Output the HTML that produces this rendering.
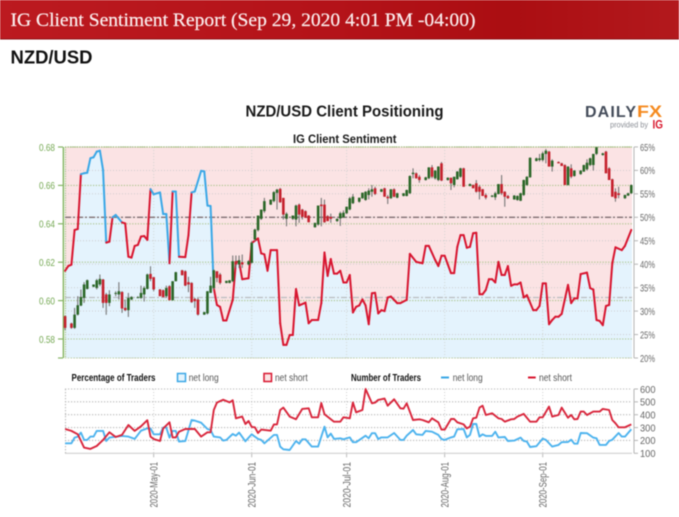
<!DOCTYPE html>
<html lang="en">
<head>
<meta charset="utf-8">
<title>IG Client Sentiment Report NZD/USD</title>
<style>
html,body{margin:0;padding:0;background:#fff;width:679px;height:517px;overflow:hidden}
svg{display:block;font-family:"Liberation Sans",sans-serif;filter:blur(0.4px)}
</style>
</head>
<body>
<svg id="root" width="679" height="517" viewBox="0 0 679 517" xmlns="http://www.w3.org/2000/svg">
  <defs>
    <linearGradient id="hdr" x1="0" x2="1" y1="0" y2="0">
      <stop offset="0" stop-color="#bc1a20"/>
      <stop offset="0.5" stop-color="#b41319"/>
      <stop offset="0.75" stop-color="#ab0e12"/>
      <stop offset="1" stop-color="#b3191d"/>
    </linearGradient>
  </defs>
  <rect x="0" y="0" width="679" height="39" fill="url(#hdr)"/>
  <rect x="0" y="38.5" width="679" height="1" fill="#8f1014"/>
  <text x="10.5" y="26" fill="#fbeeee" stroke="#fbeeee" stroke-width="0.2" font-family="'Liberation Serif',serif" font-size="18.5" textLength="465" lengthAdjust="spacingAndGlyphs">IG Client Sentiment Report (Sep 29, 2020 4:01 PM -04:00)</text>
  <text x="10.5" y="63.5" fill="#111" font-size="18" font-weight="bold" textLength="82" lengthAdjust="spacingAndGlyphs">NZD/USD</text>
  <text x="245.5" y="116.5" fill="#1a1a1a" font-size="15.5" font-weight="bold" textLength="198" lengthAdjust="spacingAndGlyphs">NZD/USD Client Positioning</text>
  <text x="293" y="143" fill="#1a1a1a" font-size="11.5" font-weight="bold" textLength="103.5" lengthAdjust="spacingAndGlyphs">IG Client Sentiment</text>
  <g>
    <text x="585" y="117" fill="#444c5a" font-size="16" font-weight="bold" textLength="51" lengthAdjust="spacing">DAILY</text>
    <text x="637" y="117" fill="#f58a1f" font-size="16.5" font-weight="bold" textLength="25" lengthAdjust="spacingAndGlyphs">FX</text>
    <text x="610" y="127.5" fill="#8b8f96" font-size="8" textLength="38" lengthAdjust="spacingAndGlyphs">provided by</text>
    <text x="652.5" y="128.5" fill="#d8162c" font-size="11.5" font-weight="bold" textLength="10.5" lengthAdjust="spacingAndGlyphs">IG</text>
  </g>
  <g id="plot"></g>
  <g id="lower"></g>
  <g>
    <text x="71.5" y="381" fill="#111" font-size="10" font-weight="bold" textLength="84" lengthAdjust="spacingAndGlyphs">Percentage of Traders</text>
    <rect x="177.5" y="373.5" width="8" height="8" fill="#e3f3fd" stroke="#3aa7e6" stroke-width="1.5"/>
    <text x="188.7" y="381" fill="#555" font-size="10" textLength="30" lengthAdjust="spacingAndGlyphs">net long</text>
    <rect x="264" y="373.5" width="7.5" height="8" fill="#fbe3e3" stroke="#d8152f" stroke-width="1.5"/>
    <text x="275" y="381" fill="#555" font-size="10" textLength="32.7" lengthAdjust="spacingAndGlyphs">net short</text>
    <text x="351" y="381" fill="#111" font-size="10" font-weight="bold" textLength="70" lengthAdjust="spacingAndGlyphs">Number of Traders</text>
    <line x1="441" x2="449" y1="377.5" y2="377.5" stroke="#3aa7e6" stroke-width="2"/>
    <text x="452.7" y="381" fill="#555" font-size="10" textLength="30" lengthAdjust="spacingAndGlyphs">net long</text>
    <line x1="528" x2="535.7" y1="377.5" y2="377.5" stroke="#d8152f" stroke-width="2"/>
    <text x="539" y="381" fill="#555" font-size="10" textLength="33" lengthAdjust="spacingAndGlyphs">net short</text>
  </g>
</svg>
<script>
const priceTicks = [0.58, 0.60, 0.62, 0.64, 0.66, 0.68];
const percentTicks = [20, 25, 30, 35, 40, 45, 50, 55, 60, 65];
const traderTicks = [100, 200, 300, 400, 500, 600];
const monthDays = [28, 59, 89, 120, 151];
const monthLabels = ["2020-May-01", "2020-Jun-01", "2020-Jul-01", "2020-Aug-01", "2020-Sep-01"];
const referencePercents = [50, 32.9];

const sentimentDays = [0,1,2,3,4,5,6,7,8,9,10,11,12,13,14,15,16,18,19,20,21,22,23,24,25,26,27,28,30,31,32,33,34,35,36,38,39,40,41,43,44,45,46,47,48,49,50,51,53,54,55,56,58,59,61,62,63,64,65,67,68,69,70,71,72,73,74,76,77,78,80,81,82,83,84,85,86,87,88,89,90,91,92,93,94,95,96,97,98,99,100,101,102,103,105,106,108,109,111,113,114,115,117,118,119,120,122,123,124,125,126,127,128,129,130,131,132,133,134,135,136,137,138,139,140,141,142,143,144,145,146,148,149,150,151,152,153,154,155,156,157,159,160,161,162,163,165,166,167,168,169,170,171,172,173,174,176,177,179];
const sentimentValues = [38.6,39.6,39.9,47.3,47.5,59.2,59.4,59.5,62.6,62.8,64,64.2,60.1,44.6,44.8,50,50.5,48.9,48.7,41.6,41.4,43.9,44.1,45.9,46,45.2,56,54.9,55.3,50.7,50.7,40.2,55.5,55.5,41.6,41.5,46.2,55.3,55.5,59.9,59.8,52.5,52.4,34.9,31.3,30.9,28,28,32.4,40.5,40.5,36.8,37,44.5,45.5,42.3,42.1,38.6,43,43,27.4,22.8,22.8,24.9,24.9,34.7,31.2,31.8,27.4,28.1,28.1,31.7,42.5,37.5,41.1,38,38,38.6,36.1,36.1,37.7,29.7,30.9,31.2,32.5,31.2,27.2,33.8,33.9,29.5,30.2,30,32.9,33.1,31.7,31.7,32.4,42.2,40.5,40.2,43.9,43.9,40.9,39.6,41.8,41.8,38.1,38.1,43.7,46.2,46.2,43.5,43.7,46.6,46.7,33.6,33.6,34.5,36.8,36.8,36.1,40.5,37.7,37.7,39.6,35.4,35.7,35.7,36.1,32.9,33.4,30.2,30.2,31.1,35.9,35.9,27.2,28.1,28.8,28.8,29.4,35.6,31.7,32.7,32.7,37.9,38.2,34.9,34.6,28.1,27.9,27,31.1,31.3,40.2,43.6,43,43.9,47.3];

const candleLastDay = 179;
const candleOpen = [.5919,.5881,.5858,.5927,.5974,.6014,.6061,.6072,.6066,.6084,.6110,.6032,.5988,.6035,.6032,.6045,.5962,.5950,.6006,.6014,.6014,.6032,.6061,.6139,.6122,.6058,.6054,.6023,.6075,.6002,.6101,.6158,.6153,.6096,.6092,.6009,.6006,.5927,.5933,.6040,.6066,.6153,.6136,.6092,.6092,.6101,.6205,.6188,.6200,.6188,.6197,.6318,.6367,.6426,.6466,.6500,.6518,.6561,.6582,.6535,.6426,.6426,.6422,.6500,.6474,.6466,.6443,.6382,.6396,.6500,.6500,.6440,.6436,.6414,.6428,.6434,.6455,.6475,.6507,.6515,.6533,.6524,.6550,.6567,.6585,.6567,.6585,.6541,.6533,.6580,.6536,.6545,.6545,.6559,.6659,.6663,.6645,.6628,.6637,.6694,.6637,.6628,.6715,.6628,.6640,.6602,.6632,.6645,.6689,.6597,.6602,.6611,.6593,.6580,.6550,.6541,.6538,.6555,.6607,.6567,.6545,.6527,.6524,.6520,.6550,.6602,.6642,.6727,.6732,.6732,.6764,.6776,.6698,.6722,.6715,.6706,.6602,.6689,.6649,.6659,.6672,.6684,.6706,.6706,.6764,.6758,.6776,.6689,.6632,.6567,.6559,.6533,.6547,.6559];
const candleHigh = [.5922,.5885,.5962,.6023,.6058,.6096,.6110,.6084,.6113,.6136,.6113,.6040,.6054,.6049,.6096,.6049,.6006,.6040,.6023,.6023,.6078,.6075,.6141,.6179,.6122,.6060,.6058,.6078,.6080,.6101,.6150,.6160,.6158,.6124,.6096,.6014,.6014,.5942,.6049,.6124,.6162,.6153,.6144,.6103,.6106,.6235,.6235,.6235,.6240,.6210,.6309,.6375,.6443,.6474,.6535,.6526,.6570,.6582,.6587,.6535,.6460,.6443,.6500,.6506,.6478,.6470,.6445,.6405,.6495,.6535,.6526,.6445,.6453,.6428,.6463,.6470,.6489,.6540,.6555,.6536,.6562,.6570,.6585,.6602,.6593,.6582,.6588,.6550,.6580,.6585,.6562,.6560,.6578,.6652,.6689,.6668,.6654,.6645,.6694,.6706,.6680,.6700,.6722,.6642,.6640,.6645,.6675,.6692,.6692,.6610,.6605,.6628,.6602,.6582,.6559,.6550,.6567,.6607,.6654,.6570,.6550,.6550,.6548,.6562,.6630,.6648,.6746,.6745,.6764,.6776,.6790,.6780,.6736,.6725,.6718,.6710,.6700,.6710,.6680,.6680,.6708,.6736,.6745,.6764,.6800,.6770,.6780,.6695,.6635,.6585,.6593,.6552,.6562,.6605];
const candleLow = [.5846,.5853,.5853,.5922,.5971,.5988,.6058,.6070,.6058,.6075,.5962,.5926,.5971,.6023,.6006,.5936,.5945,.5915,.6002,.6014,.6009,.5995,.6058,.6101,.6049,.6023,.6018,.6014,.6002,.6000,.6100,.6132,.6075,.6044,.5988,.5962,.5922,.5925,.5927,.6040,.6058,.6096,.6084,.6090,.6090,.6096,.6170,.6170,.6170,.6183,.6193,.6310,.6360,.6420,.6457,.6498,.6512,.6474,.6509,.6422,.6387,.6420,.6387,.6405,.6422,.6431,.6408,.6380,.6390,.6387,.6405,.6414,.6405,.6410,.6389,.6430,.6450,.6470,.6503,.6510,.6530,.6520,.6527,.6541,.6550,.6565,.6541,.6503,.6530,.6538,.6533,.6543,.6543,.6555,.6637,.6635,.6614,.6625,.6632,.6637,.6630,.6622,.6622,.6625,.6576,.6590,.6630,.6640,.6593,.6595,.6585,.6562,.6527,.6545,.6527,.6538,.6524,.6553,.6550,.6489,.6530,.6525,.6520,.6518,.6545,.6598,.6640,.6725,.6724,.6724,.6715,.6698,.6672,.6715,.6701,.6602,.6600,.6637,.6645,.6655,.6670,.6677,.6700,.6677,.6758,.6755,.6663,.6628,.6541,.6515,.6533,.6530,.6545,.6555];
const candleClose = [.5858,.5858,.5927,.5976,.6019,.6084,.6106,.6084,.6106,.6113,.5988,.5988,.6032,.6040,.6049,.5959,.5950,.6014,.6019,.6018,.6040,.6066,.6136,.6113,.6058,.6023,.6018,.6066,.6002,.6101,.6148,.6132,.6078,.6084,.5992,.5997,.5927,.5940,.6049,.6078,.6158,.6118,.6092,.6103,.6106,.6205,.6188,.6210,.6188,.6205,.6301,.6370,.6443,.6474,.6518,.6526,.6565,.6578,.6512,.6448,.6452,.6443,.6495,.6448,.6436,.6431,.6408,.6405,.6495,.6492,.6408,.6414,.6426,.6426,.6455,.6458,.6489,.6533,.6541,.6536,.6562,.6567,.6573,.6580,.6555,.6580,.6541,.6533,.6580,.6541,.6559,.6559,.6576,.6649,.6666,.6637,.6628,.6642,.6694,.6645,.6677,.6698,.6625,.6640,.6611,.6645,.6672,.6689,.6593,.6607,.6585,.6567,.6567,.6545,.6536,.6547,.6559,.6607,.6559,.6541,.6533,.6547,.6545,.6559,.6628,.6645,.6744,.6741,.6741,.6767,.6781,.6698,.6729,.6715,.6701,.6602,.6698,.6645,.6677,.6677,.6706,.6718,.6741,.6764,.6798,.6767,.6663,.6628,.6541,.6533,.6550,.6550,.6559,.6602];

const netLongDays = [0,2,3,4,5,6,7,8,9,10,12,13,14,18,20,22,24,26,27,28,30,31,32,33,34,35,36,38,40,41,43,45,46,47,49,50,51,53,54,55,57,59,61,62,63,66,67,68,69,71,73,74,75,76,78,80,82,83,84,85,87,88,90,91,92,95,96,97,98,99,100,102,104,106,107,108,110,111,113,114,116,118,119,120,122,123,124,126,127,128,129,130,131,132,133,135,136,137,139,140,142,144,145,146,147,149,151,152,154,156,157,159,160,161,162,163,165,167,168,169,171,172,173,175,176,177,179];
const netLongValues = [178,178,222,230,261,204,204,230,230,274,274,196,222,235,230,212,276,294,294,248,248,300,300,222,274,274,191,196,359,354,338,289,281,230,224,199,204,250,237,261,193,248,212,204,178,243,243,152,131,126,196,175,209,209,152,152,307,224,253,212,217,209,224,186,186,237,217,256,256,211,224,224,258,204,204,237,281,248,243,274,268,243,211,204,224,230,287,289,224,243,328,328,230,248,235,235,268,224,227,196,199,222,196,191,149,155,214,204,152,165,186,188,206,175,175,258,256,222,217,165,165,196,206,258,230,230,287];

const netShortDays = [0,2,4,6,8,10,12,14,16,18,20,22,24,26,27,28,30,31,33,34,35,36,38,41,43,45,46,47,48,50,52,53,54,56,57,58,59,60,61,62,65,66,67,68,69,71,73,75,77,78,80,81,82,85,87,88,90,91,92,94,95,97,98,99,101,102,104,106,107,108,110,112,113,115,116,118,119,120,122,123,124,126,127,128,129,130,131,132,133,135,137,138,139,141,142,143,145,147,149,150,151,153,154,156,157,159,160,161,162,163,164,165,167,169,170,172,173,174,175,177,179];
const netShortValues = [289,274,248,144,134,157,204,263,227,243,320,274,310,357,230,211,196,294,341,224,224,268,289,289,230,263,263,437,494,517,496,512,372,385,328,351,305,302,258,284,276,325,325,437,455,385,364,445,450,380,380,491,403,346,346,380,372,496,419,437,600,489,494,515,525,470,520,450,447,489,359,364,359,341,372,341,284,284,367,367,341,325,294,307,372,377,455,470,398,411,372,367,346,364,367,385,406,346,346,380,380,463,385,398,455,377,398,364,367,424,424,398,424,424,445,437,359,333,302,302,325];

const svgNS = "http://www.w3.org/2000/svg";
const plotGroup = document.getElementById("plot");
const lowerGroup = document.getElementById("lower");
const plotLeft = 65, plotRight = 632, plotTop = 147, plotBottom = 358;
const lowTop = 389, lowBottom = 453.3;

function xOfDay(d){ return 65.1 + 3.163 * d; }
function yOfPrice(p){ return 147 + (0.68 - p) * 1920; }
function yOfPercent(v){ return 358 - (v - 20) * 4.69; }
function yOfTraders(v){ return 453.3 - (v - 100) * 0.1286; }

function make(parent, tag, attrs, text){
  const node = document.createElementNS(svgNS, tag);
  for (const k in attrs) node.setAttribute(k, attrs[k]);
  if (text !== undefined) node.textContent = text;
  parent.appendChild(node);
  return node;
}
function pointsOf(days, values, yFn){
  return days.map((d, i) => xOfDay(d).toFixed(1) + "," + yFn(values[i]).toFixed(1));
}

/* sentiment fills */
const linePts = pointsOf(sentimentDays, sentimentValues, yOfPercent);
const lastX = plotRight, firstX = plotLeft;
const firstY = yOfPercent(sentimentValues[0]).toFixed(1);
const lastY = yOfPercent(sentimentValues[sentimentValues.length - 1]).toFixed(1);
const fillAbove = make(plotGroup, "polygon", {points: firstX + "," + plotTop + " " + firstX + "," + firstY + " " + linePts.join(" ") + " " + lastX + "," + lastY + " " + lastX + "," + plotTop, fill: "#fbe3e4"});


const fillBelow = make(plotGroup, "polygon", {points: firstX + "," + plotBottom + " " + firstX + "," + firstY + " " + linePts.join(" ") + " " + lastX + "," + lastY + " " + lastX + "," + plotBottom, fill: "#e4f3fd"});



/* grid: percent */
percentTicks.forEach(v => {
  const y = yOfPercent(v);
  const g = make(plotGroup, "line", {x1: plotLeft, x2: plotRight, y1: y, y2: y, stroke: "#c9c9c9", "stroke-width": 0.9, "stroke-dasharray": "1 2"});
  
  
  const t = make(plotGroup, "line", {x1: 634, x2: 638, y1: y, y2: y, stroke: "#b5b5b5", "stroke-width": 1});
  
  
  const l = make(plotGroup, "text", {x: 640, y: y + 3.8, fill: "#666", "font-size": 10.5, textLength: 15, lengthAdjust: "spacingAndGlyphs"}, v + "%");
  
  
});
/* grid: price */
priceTicks.forEach(v => {
  const y = yOfPrice(v);
  const g = make(plotGroup, "line", {x1: plotLeft, x2: plotRight, y1: y, y2: y, stroke: "#a9c48a", "stroke-width": 1.1, "stroke-dasharray": "1.2 1.6"});
  
  
  const t = make(plotGroup, "line", {x1: 58, x2: 63, y1: y, y2: y, stroke: "#86b565", "stroke-width": 1.2});
  
  
  const l = make(plotGroup, "text", {x: 39, y: y + 3.8, fill: "#74a852", "font-size": 10.5, textLength: 16, lengthAdjust: "spacingAndGlyphs"}, v.toFixed(2));
  
  
});
/* month gridlines both panels */
monthDays.forEach((d, i) => {
  const x = xOfDay(d);
  const g = make(plotGroup, "line", {x1: x, x2: x, y1: plotTop, y2: plotBottom, stroke: "#cfd3cf", "stroke-width": 0.9, "stroke-dasharray": "1 2"});
  
  
  const g2 = make(lowerGroup, "line", {x1: x, x2: x, y1: lowTop, y2: lowBottom, stroke: "#c9c9c9", "stroke-width": 0.9, "stroke-dasharray": "1 2"});
  
  
  const t = make(lowerGroup, "line", {x1: x, x2: x, y1: lowBottom, y2: lowBottom + 4, stroke: "#bbb", "stroke-width": 1});
  
  
  const yb = 507.5;
  const l = make(lowerGroup, "text", {x: x + 3.8, y: yb, fill: "#666", "font-size": 11, textLength: 45.5, lengthAdjust: "spacingAndGlyphs", transform: "rotate(-90 " + (x + 3.8) + " " + yb + ")"}, monthLabels[i]);
  
  
});
/* plot frame */
const topEdge = make(plotGroup, "line", {x1: plotLeft, x2: plotRight, y1: plotTop, y2: plotTop, stroke: "#9dba78", "stroke-width": 1.3, "stroke-dasharray": "1.2 1.2"});


const leftEdge = make(plotGroup, "line", {x1: 65.5, x2: 65.5, y1: plotTop, y2: plotBottom, stroke: "#9dba78", "stroke-width": 1, "stroke-dasharray": "1.2 1.2"});


const bottomEdge = make(plotGroup, "line", {x1: plotLeft, x2: plotRight, y1: plotBottom, y2: plotBottom, stroke: "#b7cc9c", "stroke-width": 1, "stroke-dasharray": "1.2 1.6"});


const leftAxis = make(plotGroup, "line", {x1: 63.4, x2: 63.4, y1: plotTop, y2: plotBottom, stroke: "#86b565", "stroke-width": 1.5});


const bottomTick = make(plotGroup, "line", {x1: 58, x2: 63, y1: plotBottom, y2: plotBottom, stroke: "#86b565", "stroke-width": 1.2});


const rightAxis = make(plotGroup, "line", {x1: 634, x2: 634, y1: plotTop, y2: plotBottom, stroke: "#b5b5b5", "stroke-width": 1});



/* reference lines */
referencePercents.forEach((v, i) => {
  const y = yOfPercent(v);
  const r = make(plotGroup, "line", {x1: plotLeft, x2: plotRight, y1: y, y2: y, stroke: i === 0 ? "#7f6f72" : "#b9bcbf", "stroke-width": 1.3, "stroke-dasharray": "6 2 2 2"});
  
  
});

/* sentiment line: colour of each segment follows its starting side of 50% */
for (let i = 0; i < sentimentDays.length - 1; i++) {
  const seg = make(plotGroup, "line", {
    x1: xOfDay(sentimentDays[i]), y1: yOfPercent(sentimentValues[i]),
    x2: xOfDay(sentimentDays[i + 1]), y2: yOfPercent(sentimentValues[i + 1]),
    stroke: sentimentValues[i] >= 50 ? "#3aa7e6" : "#d8152f",
    "stroke-width": 2, "stroke-linecap": "round"
  });
  
  
}

/* candles: one per day, no Saturday session (day 0 is a Friday) */
let candleIndex = 0;
for (let d = 0; d <= candleLastDay; d++) {
  if (d % 7 === 1) continue;
  const i = candleIndex++;
  if (i >= candleOpen.length) break;
  const x = xOfDay(d);
  const up = candleClose[i] >= candleOpen[i];
  const wick = make(plotGroup, "line", {x1: x, x2: x, y1: Math.max(yOfPrice(candleHigh[i]), plotTop), y2: yOfPrice(candleLow[i]), stroke: "#777", "stroke-width": 1.1});
  
  
  const top = yOfPrice(Math.max(candleOpen[i], candleClose[i]));
  const bot = yOfPrice(Math.min(candleOpen[i], candleClose[i]));
  const body = make(plotGroup, "rect", {x: x - 1.3, y: top, width: 2.6, height: Math.max(bot - top, 1), fill: up ? "#2a6627" : "#c5202c"});
  
  
}

/* lower panel */
traderTicks.forEach(v => {
  const y = yOfTraders(v);
  const isEdge = v === 100;
  const g = make(lowerGroup, "line", isEdge
    ? {x1: plotLeft, x2: plotRight, y1: y, y2: y, stroke: "#d0d0d0", "stroke-width": 1.2}
    : {x1: plotLeft, x2: plotRight, y1: y, y2: y, stroke: "#b5b5b5", "stroke-width": 1.1, "stroke-dasharray": "1.2 1.8"});
  
  
  const t = make(lowerGroup, "line", {x1: 634, x2: 638, y1: y, y2: y, stroke: "#b5b5b5", "stroke-width": 1});
  
  
  const l = make(lowerGroup, "text", {x: 640, y: y + 3.8, fill: "#666", "font-size": 10.5, textLength: 15.5, lengthAdjust: "spacingAndGlyphs"}, String(v));
  
  
});
const lowLeft = make(lowerGroup, "line", {x1: 65.5, x2: 65.5, y1: lowTop, y2: lowBottom, stroke: "#b5b5b5", "stroke-width": 1.1, "stroke-dasharray": "1.2 1.8"});


const lowAxis = make(lowerGroup, "line", {x1: 634, x2: 634, y1: lowTop, y2: lowBottom, stroke: "#b5b5b5", "stroke-width": 1});


const longLine = make(lowerGroup, "polyline", {points: pointsOf(netLongDays, netLongValues, yOfTraders).join(" "), fill: "none", stroke: "#4db3ee", "stroke-width": 1.9, "stroke-linejoin": "round"});


const shortLine = make(lowerGroup, "polyline", {points: pointsOf(netShortDays, netShortValues, yOfTraders).join(" "), fill: "none", stroke: "#d8263c", "stroke-width": 1.9, "stroke-linejoin": "round"});


</script>
</body>
</html>
